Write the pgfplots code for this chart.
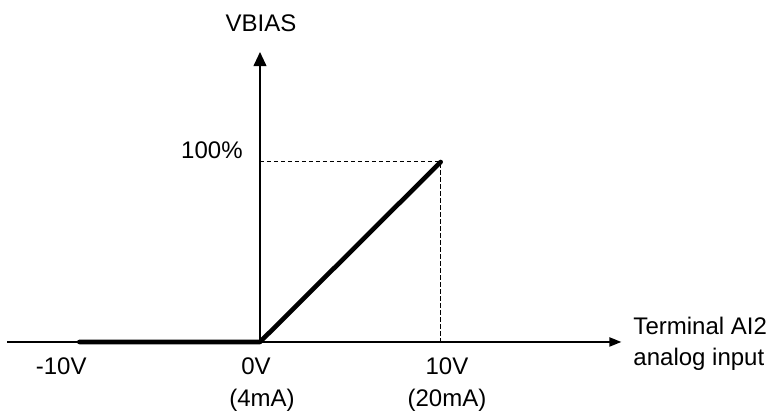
\documentclass[border=0pt]{standalone}
\usepackage{fontspec}
\setmainfont{Liberation Sans}
\usepackage{pgfplots}
\pgfplotsset{compat=1.18}
\usetikzlibrary{arrows.meta}
\begin{document}
\begin{tikzpicture}
\begin{axis}[
  scale only axis,
  width=307.2pt, height=145pt,
  xmin=-14, xmax=20, ymin=0, ymax=161.1,
  axis lines=middle,
  x axis line style={line width=0.75pt, -{Triangle[length=6pt,width=4.6pt]}},
  y axis line style={line width=0.75pt, -{Triangle[length=7pt,width=6.4pt]}},
  xtick=\empty, ytick=\empty,
  clip=false,
  font=\fontsize{12}{15}\selectfont,
]
\addplot[line width=0.5pt, dash pattern=on 2.25pt off 1.25pt] coordinates {(0,100) (10,100) (10,0)};
\addplot[line width=2.3pt, line cap=round, line join=round] coordinates {(-10,0) (0,0) (10,100)};
\node[anchor=base] at (axis cs:-11.0,-18.3) {-10V};
\node[anchor=base] at (axis cs:-0.22,-18.3) {0V};
\node[anchor=base] at (axis cs:0.11,-35.6) {(4mA)};
\node[anchor=base] at (axis cs:10.35,-18.3) {10V};
\node[anchor=base] at (axis cs:10.35,-35.6) {(20mA)};
\node[anchor=base east, inner sep=0pt] at (axis cs:-0.94,102.2) {100\%};
\node[anchor=base] at (axis cs:0.06,172.4) {VBIAS};
\node[anchor=base west, inner sep=0pt] at (axis cs:20.65,3.9) {Terminal AI2};
\node[anchor=base west, inner sep=0pt] at (axis cs:20.65,-12.8) {analog input};
\coordinate (bl) at (axis cs:-14.39,-38.9);
\coordinate (tr) at (axis cs:28.56,190);
\end{axis}
\path[use as bounding box] (bl) rectangle (tr);
\end{tikzpicture}
\end{document}
